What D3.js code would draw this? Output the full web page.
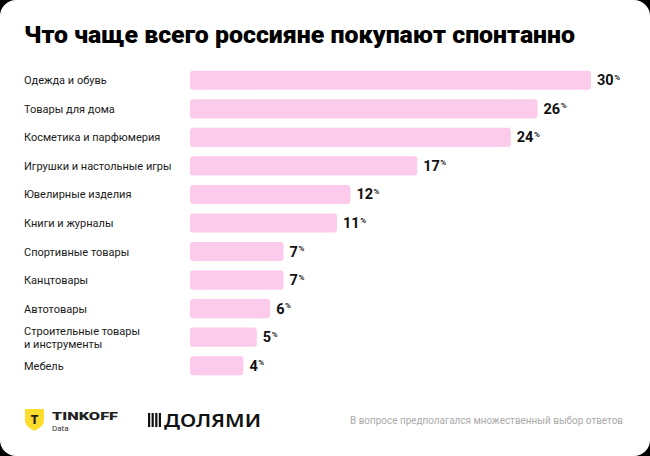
<!DOCTYPE html>
<html><head><meta charset="utf-8">
<script src="https://cdn.jsdelivr.net/npm/d3@7"></script>
<style>
html,body{margin:0;padding:0;background:#000;}
svg{display:block;}
</style></head>
<body>
<script>
const categories = [
  ["Одежда и обувь"],
  ["Товары для дома"],
  ["Косметика и парфюмерия"],
  ["Игрушки и настольные игры"],
  ["Ювелирные изделия"],
  ["Книги и журналы"],
  ["Спортивные товары"],
  ["Канцтовары"],
  ["Автотовары"],
  ["Строительные товары", "и инструменты"],
  ["Мебель"]
];
const values = [30, 26, 24, 17, 12, 11, 7, 7, 6, 5, 4];
const title = "Что чаще всего россияне покупают спонтанно";
const footnote = "В вопросе предполагался множественный выбор ответов";

const W = 650, H = 456;
const svg = d3.select("body").append("svg").attr("width", W).attr("height", H);
svg.append("rect").attr("width", W).attr("height", H).attr("fill", "#000");
svg.append("rect").attr("x", 0).attr("y", 0).attr("width", W).attr("height", H)
  .attr("rx", 16).attr("fill", "#fff");

svg.append("text").attr("x", 24).attr("y", 43)
  .attr("font-family", "Roboto, sans-serif").attr("font-weight", 900)
  .attr("font-size", 23.5).attr("fill", "#000")
  .attr("textLength", 551).attr("lengthAdjust", "spacingAndGlyphs")
  .text(title);

const keys = categories.map(d => d.join(" "));
const y = d3.scaleBand().domain(keys).range([66, 380]).paddingInner(0.33).paddingOuter(0.165);
const x = d3.scaleLinear().domain([0, 30]).range([190, 591]);

const rows = svg.append("g").selectAll("g").data(keys).join("g");
rows.append("rect")
  .attr("x", x(0)).attr("y", d => y(d))
  .attr("width", (d, i) => x(values[i]) - x(0))
  .attr("height", y.bandwidth()).attr("rx", 3)
  .attr("fill", "#fccbec");

rows.each(function(d, i) {
  const g = d3.select(this);
  const cy = y(d) + y.bandwidth() / 2;
  const lines = categories[i];
  const t = g.append("text").attr("font-family", "Roboto, sans-serif")
    .attr("font-size", 11).attr("fill", "#1a1a1a");
  lines.forEach((ln, j) => {
    t.append("tspan").attr("x", 24)
      .attr("y", cy + 4 + (j - (lines.length - 1) / 2) * 13)
      .text(ln);
  });
  const v = g.append("text").attr("x", x(values[i]) + 6).attr("y", cy + 5)
    .attr("font-family", "Roboto, sans-serif").attr("font-weight", 700)
    .attr("font-size", 14.5).attr("fill", "#111");
  v.append("tspan").text(values[i]);
  v.append("tspan").attr("font-size", 8).attr("font-weight", 600).attr("dy", -5.5).attr("dx", 0.5).text("%");
});

// footer: Tinkoff logo
const logo = svg.append("g").attr("transform", "translate(25,409)");
logo.append("path")
  .attr("d", "M0,0 H19 V11 C19,16 15,19 9.5,22 C4,19 0,16 0,11 Z")
  .attr("fill", "#ffdd2d");
logo.append("text").attr("x", 9.5).attr("y", 15).attr("text-anchor", "middle")
  .attr("font-family", "Roboto, sans-serif").attr("font-weight", 900)
  .attr("font-size", 12).attr("fill", "#222").text("T");
svg.append("text").attr("x", 52).attr("y", 420)
  .attr("font-family", "Roboto, sans-serif").attr("font-weight", 900)
  .attr("font-size", 11.5).attr("fill", "#222")
  .attr("textLength", 66).attr("lengthAdjust", "spacingAndGlyphs").text("TINKOFF");
svg.append("text").attr("x", 52).attr("y", 431)
  .attr("font-family", "Roboto, sans-serif").attr("font-size", 8)
  .attr("fill", "#333").text("Data");

// Долями logo
const dl = svg.append("g").attr("transform", "translate(148,413)");
[0, 3.6, 7.2, 10.8].forEach((dx, k) => {
  dl.append("rect").attr("x", dx).attr("y", 0).attr("width", 2.2)
    .attr("height", 14).attr("fill", "#111");
});
svg.append("text").attr("x", 164).attr("y", 427)
  .attr("font-family", "'Noto Sans', sans-serif").attr("font-weight", 600)
  .attr("font-size", 18).attr("fill", "#111")
  .attr("textLength", 97).attr("lengthAdjust", "spacingAndGlyphs").text("ДОЛЯМИ");

svg.append("text").attr("x", 350).attr("y", 424)
  .attr("font-family", "Roboto, sans-serif").attr("font-size", 10.5)
  .attr("fill", "#aaa")
  .attr("textLength", 273).attr("lengthAdjust", "spacingAndGlyphs").text(footnote);
</script>
</body></html>
